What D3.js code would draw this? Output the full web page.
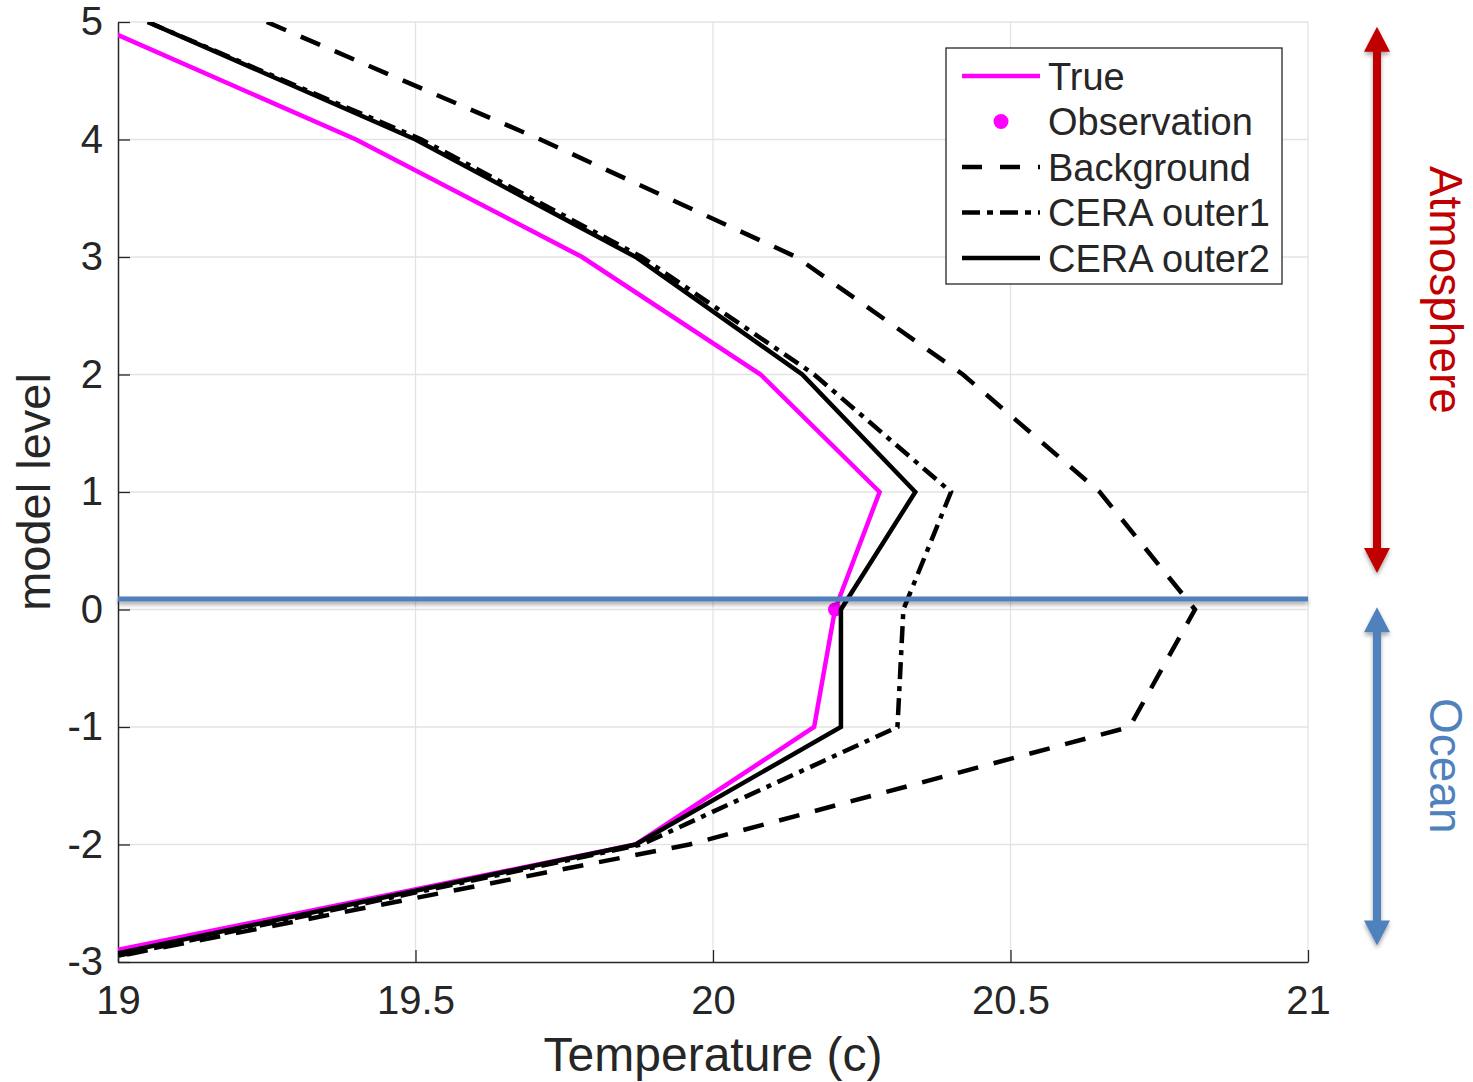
<!DOCTYPE html>
<html>
<head>
<meta charset="utf-8">
<script src="https://cdn.jsdelivr.net/npm/d3@7"></script>
<style>
  body { margin: 0; background: #fff; }
  text { font-family: "Liberation Sans", Arial, Helvetica, sans-serif; fill: #262626; }
</style>
</head>
<body>
<svg id="chart" width="1473" height="1082"></svg>
<script>
// Model levels, top of the profile first
const levels = [5, 4, 3, 2, 1, 0, -1, -2, -3];

// Temperature profiles (c)
const trueTemp       = [18.95, 19.40, 19.78, 20.08, 20.28, 20.205, 20.17, 19.87, 18.90];
const backgroundTemp = [19.25, 19.71, 20.14, 20.42, 20.65, 20.81, 20.70, 19.96, 18.95];
const outer1Temp     = [19.05, 19.51, 19.88, 20.17, 20.40, 20.32, 20.31, 19.88, 18.95];
const outer2Temp     = [19.05, 19.50, 19.87, 20.15, 20.34, 20.215, 20.215, 19.87, 18.93];

// One observation at the interface
const obsLevels = [0];
const obsTemp = [20.205];

const xTicks = [19, 19.5, 20, 20.5, 21];
const yTicks = [-3, -2, -1, 0, 1, 2, 3, 4, 5];

// Ocean / atmosphere divider and the side annotations (in model levels)
const interfaceLevel = 0.09;
const regionNames  = ['Atmosphere', 'Ocean'];
const regionTop    = [4.96, 0.02];
const regionBottom = [0.31, -2.86];
const regionLabelAt = [2.72, -1.33];
const regionColors = ['#C00000', '#4F81BD'];

const svg = d3.select('#chart');
const margin = {top: 22, right: 165, bottom: 120, left: 118};
const width = 1473 - margin.left - margin.right;
const height = 1082 - margin.top - margin.bottom;

const g = svg.append('g')
    .attr('transform', `translate(${margin.left},${margin.top})`);

const x = d3.scaleLinear().domain([19, 21]).range([0, width]);
const y = d3.scaleLinear().domain([-3, 5]).range([height, 0]);

// Shadow used by the blue divider and the arrows (they were pasted on in slides)
const defs = svg.append('defs');
defs.append('filter')
    .attr('id', 'shadow')
    .attr('filterUnits', 'userSpaceOnUse')
    .attr('x', -50).attr('y', -50)
    .attr('width', 1600).attr('height', 1200)
  .append('feDropShadow')
    .attr('dx', 0).attr('dy', 3)
    .attr('stdDeviation', 2.2)
    .attr('flood-color', '#000')
    .attr('flood-opacity', 0.35);
defs.append('clipPath')
    .attr('id', 'plot-clip')
  .append('rect')
    .attr('width', width)
    .attr('height', height);

// Grid lines
g.append('g')
  .selectAll('line')
  .data(xTicks.slice(1))
  .join('line')
    .attr('x1', d => x(d)).attr('x2', d => x(d))
    .attr('y1', 0).attr('y2', height)
    .attr('stroke', '#e3e3e3')
    .attr('stroke-width', 1.3);
g.append('g')
  .selectAll('line')
  .data(yTicks.slice(1))
  .join('line')
    .attr('x1', 0).attr('x2', width)
    .attr('y1', d => y(d)).attr('y2', d => y(d))
    .attr('stroke', '#e3e3e3')
    .attr('stroke-width', 1.3);

// Axes, ticks pointing inward like MATLAB
const xAxisG = g.append('g')
    .attr('transform', `translate(0,${height})`)
    .call(d3.axisBottom(x)
      .tickValues(xTicks)
      .tickSizeInner(-12)
      .tickSizeOuter(0)
      .tickPadding(24)
      .tickFormat(d => String(d)));
const yAxisG = g.append('g')
    .call(d3.axisLeft(y)
      .tickValues(yTicks)
      .tickSizeInner(-12)
      .tickSizeOuter(0)
      .tickPadding(15)
      .tickFormat(d => String(d)));
[xAxisG, yAxisG].forEach(a => {
  a.select('.domain').attr('stroke', '#262626').attr('stroke-width', 1.5);
  a.selectAll('.tick line').attr('stroke', '#262626').attr('stroke-width', 1.3);
  a.selectAll('.tick text')
      .style('font-size', '40px')
      .attr('fill', '#262626');
});

// Axis titles
svg.append('text')
    .attr('x', margin.left + width / 2)
    .attr('y', 1071)
    .attr('text-anchor', 'middle')
    .style('font-size', '48px')
    .text('Temperature (c)');
svg.append('text')
    .attr('transform', `translate(50,${margin.top + height / 2}) rotate(-90)`)
    .attr('text-anchor', 'middle')
    .style('font-size', '47px')
    .text('model level');

// Profiles
const series = [
  {name: 'True',        values: trueTemp,       color: '#FF00FF', dash: null},
  {name: 'Background',  values: backgroundTemp, color: '#000',    dash: '21,16'},
  {name: 'CERA outer1', values: outer1Temp,     color: '#000',    dash: '17,7,5,7'},
  {name: 'CERA outer2', values: outer2Temp,     color: '#000',    dash: null}
];

const line = d3.line()
    .x(d => x(d.t))
    .y(d => y(d.level));

const plot = g.append('g').attr('clip-path', 'url(#plot-clip)');

plot.append('path')
    .datum(levels.map((l, i) => ({level: l, t: trueTemp[i]})))
    .attr('d', line)
    .attr('fill', 'none')
    .attr('stroke', series[0].color)
    .attr('stroke-width', 4.5);

plot.selectAll('.obs')
  .data(obsLevels.map((l, i) => ({level: l, t: obsTemp[i]})))
  .join('circle')
    .attr('class', 'obs')
    .attr('cx', d => x(d.t))
    .attr('cy', d => y(d.level))
    .attr('r', 7)
    .attr('fill', '#FF00FF');

series.slice(1).forEach(s => {
  plot.append('path')
      .datum(levels.map((l, i) => ({level: l, t: s.values[i]})))
      .attr('d', line)
      .attr('fill', 'none')
      .attr('stroke', s.color)
      .attr('stroke-width', 4.5)
      .attr('stroke-linejoin', 'miter')
      .attr('stroke-dasharray', s.dash);
});

// Blue ocean/atmosphere divider
g.append('line')
    .attr('x1', 0).attr('x2', width)
    .attr('y1', y(interfaceLevel)).attr('y2', y(interfaceLevel))
    .attr('stroke', '#4F81BD')
    .attr('stroke-width', 5)
    .attr('filter', 'url(#shadow)');

// Legend
const legendItems = [
  {label: 'True',        type: 'line', color: '#FF00FF', dash: null},
  {label: 'Observation', type: 'dot',  color: '#FF00FF', dash: null},
  {label: 'Background',  type: 'line', color: '#000',    dash: '20,18'},
  {label: 'CERA outer1', type: 'line', color: '#000',    dash: '18,7,6,7'},
  {label: 'CERA outer2', type: 'line', color: '#000',    dash: null}
];
const legend = svg.append('g').attr('transform', 'translate(946,48)');
legend.append('rect')
    .attr('width', 336)
    .attr('height', 236)
    .attr('fill', '#fff')
    .attr('stroke', '#262626')
    .attr('stroke-width', 1.3);
const rows = legend.selectAll('.row')
  .data(legendItems)
  .join('g')
    .attr('class', 'row')
    .attr('transform', (d, i) => `translate(0,${28 + i * 45.5})`);
rows.filter(d => d.type === 'line').append('line')
    .attr('x1', 16).attr('x2', 94)
    .attr('stroke', d => d.color)
    .attr('stroke-width', 4.5)
    .attr('stroke-dasharray', d => d.dash);
rows.filter(d => d.type === 'dot').append('circle')
    .attr('cx', 55)
    .attr('r', 7.5)
    .attr('fill', d => d.color);
rows.append('text')
    .attr('x', 102)
    .attr('dy', '0.36em')
    .style('font-size', '38px')
    .attr('fill', '#000')
    .text(d => d.label);

// Side annotations: double-headed arrows with labels
const arrowX = 1377;
regionNames.forEach((name, i) => {
  const top = margin.top + y(regionTop[i]);
  const bottom = margin.top + y(regionBottom[i]);
  const head = 25, half = 13;
  const a = svg.append('g').attr('filter', 'url(#shadow)');
  a.append('line')
      .attr('x1', arrowX).attr('x2', arrowX)
      .attr('y1', top + head - 2).attr('y2', bottom - head + 2)
      .attr('stroke', regionColors[i])
      .attr('stroke-width', 8);
  a.append('path')
      .attr('d', `M${arrowX},${top} L${arrowX + half},${top + head} L${arrowX - half},${top + head} Z`)
      .attr('fill', regionColors[i]);
  a.append('path')
      .attr('d', `M${arrowX},${bottom} L${arrowX + half},${bottom - head} L${arrowX - half},${bottom - head} Z`)
      .attr('fill', regionColors[i]);
  svg.append('text')
      .attr('transform', `translate(1430,${margin.top + y(regionLabelAt[i])}) rotate(90)`)
      .attr('text-anchor', 'middle')
      .style('font-size', '46px')
      .style('fill', regionColors[i])
      .text(name);
});
</script>
</body>
</html>
